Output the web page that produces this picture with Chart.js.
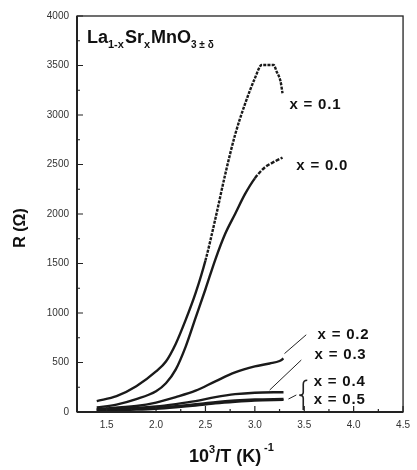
<!DOCTYPE html>
<html>
<head>
<meta charset="utf-8">
<script src="https://cdn.jsdelivr.net/npm/chart.js@4.4.1/dist/chart.umd.min.js"></script>
<style>
html, body { margin: 0; padding: 0; background: #fff; }
#wrap { width: 417px; height: 470px; }
</style>
</head>
<body>
<div id="wrap"><canvas id="chart"></canvas></div>
<script>
// tick labels
const xTicks = [1.5, 2.0, 2.5, 3.0, 3.5, 4.0, 4.5];
const yTicks = [0, 500, 1000, 1500, 2000, 2500, 3000, 3500, 4000];

// 10^3/T and R for each composition
const t00 = [1.4, 1.6, 1.8, 2.0, 2.1, 2.2, 2.3, 2.4, 2.5, 2.6, 2.7, 2.8, 2.9, 3.0, 3.1, 3.2, 3.28];
const r00 = [45, 75, 130, 210, 290, 430, 660, 950, 1240, 1540, 1800, 2000, 2200, 2360, 2470, 2530, 2570];

const t01 = [1.4, 1.6, 1.8, 2.0, 2.1, 2.2, 2.3, 2.4, 2.5, 2.6, 2.7, 2.8, 2.9, 3.0, 3.07, 3.19, 3.22, 3.26, 3.28];
const r01 = [110, 160, 260, 410, 510, 690, 930, 1200, 1530, 1950, 2400, 2800, 3110, 3370, 3505, 3505, 3440, 3340, 3220];

const t02 = [1.4, 1.8, 2.0, 2.2, 2.4, 2.6, 2.8, 3.0, 3.15, 3.25, 3.29];
const r02 = [30, 60, 95, 150, 215, 310, 400, 460, 490, 515, 540];

const t03 = [1.4, 1.8, 2.0, 2.2, 2.4, 2.6, 2.8, 3.0, 3.29];
const r03 = [25, 40, 55, 80, 110, 150, 180, 195, 200];

const t04 = [1.4, 1.8, 2.0, 2.2, 2.4, 2.6, 2.8, 3.0, 3.29];
const r04 = [20, 32, 42, 58, 78, 100, 116, 126, 132];

const t05 = [1.4, 1.8, 2.0, 2.2, 2.4, 2.6, 2.8, 3.0, 3.29];
const r05 = [12, 24, 33, 48, 66, 88, 104, 116, 122];

function pts(t, r) {
    return t.map((v, i) => ({ x: v, y: r[i] }));
}

// dashFrom: 10^3/T above which the trace looks broken into dashes
function series(t, r, dash, dashFrom) {
    const ds = {
        data: pts(t, r),
        borderColor: '#1a1a1a',
        borderWidth: 2.4,
        pointRadius: 0,
        fill: false,
        cubicInterpolationMode: 'monotone'
    };
    if (dash) {
        ds.segment = {
            borderDash: c => c.p0.parsed.x >= dashFrom ? dash : undefined
        };
    }
    return ds;
}

// frame, inward ticks, labels and titles
const decor = {
    id: 'decor',
    afterDraw(chart) {
        const ctx = chart.ctx;
        const xs = chart.scales.x, ys = chart.scales.y;
        const a = chart.chartArea;
        const px = v => xs.getPixelForValue(v);
        const py = v => ys.getPixelForValue(v);
        ctx.save();
        ctx.strokeStyle = '#222';
        ctx.lineWidth = 1.3;
        ctx.strokeRect(a.left, a.top, a.right - a.left, a.bottom - a.top);
        ctx.lineWidth = 2;
        ctx.beginPath();
        ctx.moveTo(a.left, a.bottom); ctx.lineTo(a.right, a.bottom);
        ctx.moveTo(a.left, a.top); ctx.lineTo(a.left, a.bottom);
        ctx.stroke();

        ctx.lineWidth = 1.2;
        ctx.beginPath();
        for (let v = 0; v <= 4000; v += 250) {
            const len = v % 500 === 0 ? 6 : 3;
            ctx.moveTo(a.left, py(v)); ctx.lineTo(a.left + len, py(v));
        }
        for (let v = 1.5; v <= 4.5; v += 0.25) {
            const len = Math.abs(v * 2 - Math.round(v * 2)) < 1e-6 ? 6 : 3;
            ctx.moveTo(px(v), a.bottom); ctx.lineTo(px(v), a.bottom - len);
        }
        ctx.stroke();

        // compound formula
        ctx.fillStyle = '#111';
        ctx.textBaseline = 'alphabetic';
        let x = a.left + 10;
        const base = 43;
        const parts = [
            ['La', 18, 0], ['1-x', 11, 5], ['Sr', 18, 0], ['x', 11, 5],
            ['MnO', 18, 0], ['3 \u00b1 \u03b4', 10, 5]
        ];
        parts.forEach(p => {
            ctx.font = 'bold ' + p[1] + 'px "Liberation Sans", Arial, sans-serif';
            ctx.fillText(p[0], x, base + p[2]);
            x += ctx.measureText(p[0]).width + (p[1] < 12 ? 1 : 0);
        });

        // series labels
        ctx.font = 'bold 15px "Liberation Sans", Arial, sans-serif';
        ctx.letterSpacing = '0.8px';
        ctx.textBaseline = 'middle';
        ctx.textAlign = 'left';
        const labels = [
            ['x = 0.1', 3.35, 3100], ['x = 0.0', 3.42, 2485],
            ['x = 0.2', 3.635, 778], ['x = 0.3', 3.605, 576],
            ['x = 0.4', 3.596, 303], ['x = 0.5', 3.596, 121]
        ];
        labels.forEach(l => ctx.fillText(l[0], px(l[1]), py(l[2])));
        ctx.letterSpacing = '0px';

        // leader lines
        ctx.lineWidth = 1;
        ctx.beginPath();
        ctx.moveTo(px(3.30), py(590)); ctx.lineTo(px(3.52), py(780));
        ctx.moveTo(px(3.15), py(222)); ctx.lineTo(px(3.47), py(525));
        ctx.moveTo(px(3.34), py(131)); ctx.lineTo(px(3.42), py(172));
        ctx.stroke();

        // brace
        const bx = px(3.49), bt = py(320), bb = py(20), bm = (bt + bb) / 2;
        ctx.lineWidth = 1.6;
        ctx.beginPath();
        ctx.moveTo(bx + 4, bt);
        ctx.quadraticCurveTo(bx, bt, bx, bt + 4);
        ctx.lineTo(bx, bm - 3);
        ctx.quadraticCurveTo(bx, bm, bx - 4, bm);
        ctx.quadraticCurveTo(bx, bm, bx, bm + 3);
        ctx.lineTo(bx, bb);
        ctx.stroke();

        // axis titles
        ctx.font = 'bold 18px "Liberation Sans", Arial, sans-serif';
        ctx.textBaseline = 'alphabetic';
        ctx.textAlign = 'left';
        let tx = 189;
        const ty = 462;
        ctx.fillText('10', tx, ty); tx += ctx.measureText('10').width;
        ctx.font = 'bold 11px "Liberation Sans", Arial, sans-serif';
        ctx.fillText('3', tx, ty - 9); tx += ctx.measureText('3').width;
        ctx.font = 'bold 18px "Liberation Sans", Arial, sans-serif';
        ctx.fillText('/T (K)', tx, ty); tx += ctx.measureText('/T (K)').width + 3;
        ctx.font = 'bold 11px "Liberation Sans", Arial, sans-serif';
        ctx.fillText('-1', tx, ty - 11);

        ctx.translate(25, 228);
        ctx.rotate(-Math.PI / 2);
        ctx.font = 'bold 16px "Liberation Sans", Arial, sans-serif';
        ctx.textAlign = 'center';
        ctx.fillText('R (\u03a9)', 0, 0);
        ctx.restore();
    }
};

const ctx = document.getElementById('chart').getContext('2d');
const chart = new Chart(ctx, {
    type: 'line',
    data: {
        datasets: [
            series(t01, r01, [3, 1.2], 2.45),
            series(t00, r00, [4, 1.5], 2.95),
            series(t02, r02),
            series(t03, r03),
            series(t04, r04),
            series(t05, r05)
        ]
    },
    options: {
        responsive: true,
        maintainAspectRatio: false,
        animation: false,
        layout: { padding: { top: 16, right: 8, left: 0, bottom: 0 } },
        plugins: {
            legend: { display: false },
            tooltip: { enabled: false }
        },
        scales: {
            x: {
                type: 'linear',
                min: 1.2,
                max: 4.5,
                grid: { display: false, drawTicks: false },
                border: { display: false },
                afterBuildTicks: s => { s.ticks = xTicks.map(v => ({ value: v })); },
                afterFit: s => { s.height = 58; },
                ticks: {
                    padding: 7,
                    color: '#333',
                    font: { size: 10, family: '"Liberation Sans", Arial, sans-serif' },
                    maxRotation: 0,
                    callback: v => v.toFixed(1)
                }
            },
            y: {
                min: 0,
                max: 4000,
                grid: { display: false, drawTicks: false },
                border: { display: false },
                afterBuildTicks: s => { s.ticks = yTicks.map(v => ({ value: v })); },
                afterFit: s => { s.width = 77; },
                ticks: {
                    padding: 8,
                    color: '#333',
                    font: { size: 10, family: '"Liberation Sans", Arial, sans-serif' },
                    callback: v => String(v)
                }
            }
        }
    },
    plugins: [decor]
});
</script>
</body>
</html>
